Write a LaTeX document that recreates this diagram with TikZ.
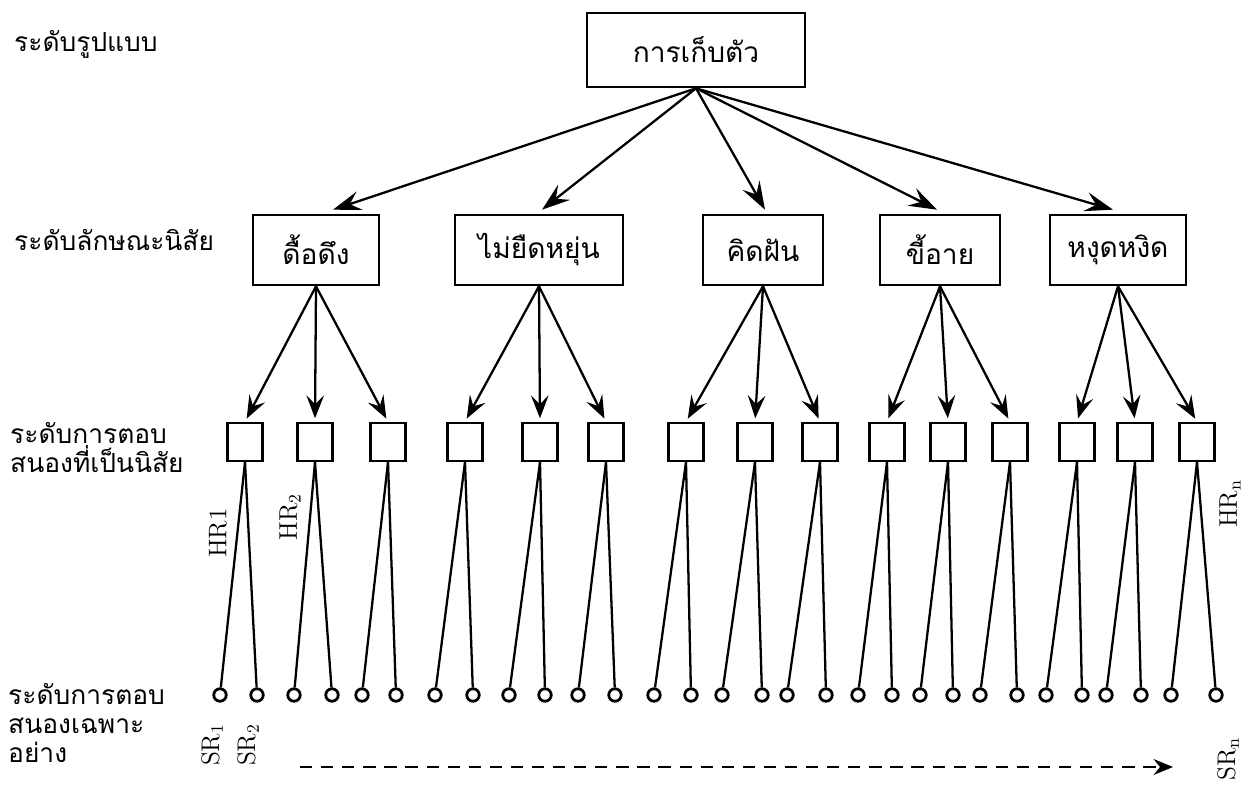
\documentclass[tikz,border=0pt]{standalone}
\usepackage{fontspec}
\newfontfamily\thaifont[Script=Thai]{Loma}
\usetikzlibrary{calc}
\usetikzlibrary{arrows.meta,positioning}

\begin{document}
\begin{tikzpicture}[x=0.02cm,y=0.02cm,
  box/.style={rectangle,draw=black,line width=1.5pt,font=\thaifont\fontsize{16}{18}\selectfont},
  habit/.style={rectangle,draw=black,line width=1.4pt,minimum width=0.7cm,minimum height=0.76cm},
  spec/.style={circle,draw=black,line width=1.6pt,minimum size=0.25cm,inner sep=0pt},
  lvl/.style={anchor=west,align=left,font=\thaifont\fontsize{15}{16.5}\selectfont},
  bigarrow/.style={line width=1.3pt,-{Stealth[length=16pt,width=11pt,inset=6pt]}},
  midarrow/.style={line width=1.3pt,shorten >=2pt,-{Stealth[length=13pt,width=10pt,inset=5pt]}},
  code/.style={rotate=90,font=\fontsize{14.5}{16}\selectfont}]

\useasboundingbox (0,0) rectangle (1255,789);

%level names on the left
\node[lvl] at (8,745) (LEVEL1) {ระดับรูปแบบ};
\node[lvl] at (8,549) (LEVEL2) {ระดับลักษณะนิสัย};
\node[lvl] at (4,341) (LEVEL3) {ระดับการตอบ\\สนองที่เป็นนิสัย};
\node[lvl] at (2,66) (LEVEL4) {ระดับการตอบ\\สนองเฉพาะ\\อย่าง};

%top box
\node[box,minimum width=4.36cm,minimum height=1.48cm] at (696,739) (TOP) {การเก็บตัว};

%trait boxes
\node[box,minimum width=2.52cm,minimum height=1.4cm] at (316,539) (TRAIT1) {ดื้อดึง};
\node[box,minimum width=3.36cm,minimum height=1.4cm] at (539,539) (TRAIT2) {ไม่ยืดหยุ่น};
\node[box,minimum width=2.4cm,minimum height=1.4cm] at (763,539) (TRAIT3) {คิดฝัน};
\node[box,minimum width=2.4cm,minimum height=1.4cm] at (940,539) (TRAIT4) {ขี้อาย};
\node[box,minimum width=2.72cm,minimum height=1.4cm] at (1118,539) (TRAIT5) {หงุดหงิด};

\draw[bigarrow] (TOP.south) -- ($(TRAIT1.north)+(17,4)$);
\draw[bigarrow] (TOP.south) -- ($(TRAIT2.north)+(3,4)$);
\draw[bigarrow] (TOP.south) -- ($(TRAIT3.north)+(2,4)$);
\draw[bigarrow] (TOP.south) -- ($(TRAIT4.north)+(-3,4)$);
\draw[bigarrow] (TOP.south) -- ($(TRAIT5.north)+(-5,4)$);

%habitual responses
\foreach \x [count=\i] in {245,315,388,465,540,606,686,755,820,887,948,1010,1077,1135,1197}
  \node[habit] at (\x,347) (HABIT\i) {};

\foreach \t/\a/\b/\c in {1/1/2/3,2/4/5/6,3/7/8/9,4/10/11/12,5/13/14/15}{
  \draw[midarrow] (TRAIT\t.south) -- (HABIT\a.north);
  \draw[midarrow] (TRAIT\t.south) -- (HABIT\b.north);
  \draw[midarrow] (TRAIT\t.south) -- (HABIT\c.north);
}

%specific responses
\foreach \x [count=\i] in {220,257,294,332,362,396,435,473,509,545,578,615,654,691,722,762,787,826,858,892,920,953,980,1017,1046,1082,1106,1141,1171,1216}
  \node[spec] at (\x,94) (RESP\i) {};

\foreach \i in {1,...,15}{
  \pgfmathtruncatemacro\l{2*\i-1}
  \pgfmathtruncatemacro\r{2*\i}
  \draw[line width=1.3pt] (HABIT\i.south) -- (RESP\l);
  \draw[line width=1.3pt] (HABIT\i.south) -- (RESP\r);
}

\node[code] at (218,256) (HR1) {HR1};
\node[code] at (290,272) (HR2) {HR$_2$};
\node[code] at (1230,285) (HRn) {HR$_\mathrm{n}$};
\node[code] at (212,44) (SR1) {SR$_1$};
\node[code] at (248,44) (SR2) {SR$_2$};
\node[code] at (1228,30) (SRn) {SR$_\mathrm{n}$};

%dashed arrow towards SRn
\coordinate (DASHSTART) at (300,22);
\coordinate (DASHEND) at (1173,22);
\draw[line width=1.3pt,dash pattern=on 7pt off 5pt,-{Stealth[length=11pt,width=9pt]}] (DASHSTART) -- (DASHEND);

\end{tikzpicture}
\end{document}
